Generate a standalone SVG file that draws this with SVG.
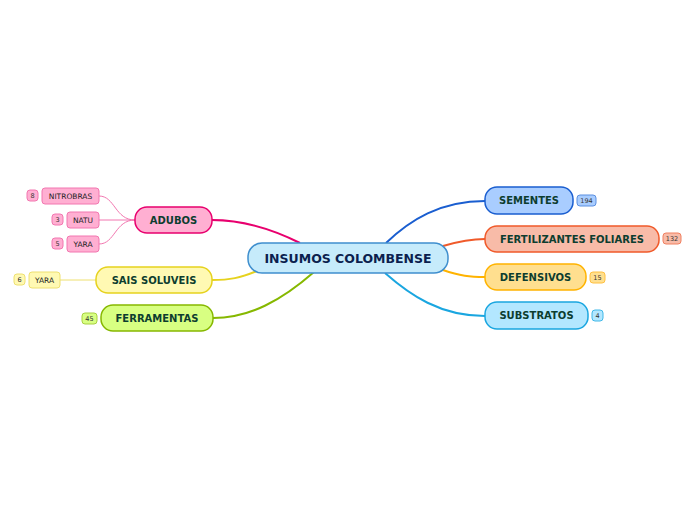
<svg xmlns="http://www.w3.org/2000/svg" width="696" height="520" viewBox="0 0 696 520">
<style>
text{font-family:Verdana,"DejaVu Sans",sans-serif;font-weight:bold;text-anchor:middle;dominant-baseline:central}
.t{font-size:10px;fill:#0d3d2f}
.s{font-size:7.5px;font-weight:normal;fill:#222}
.b{font-size:6.5px;font-weight:normal;fill:#333}
.c{fill:none;stroke-width:2}
.n{fill:none;stroke-width:1}
</style>
<rect width="696" height="520" fill="#fff"/>
<g id="connectors">
<path class="c" stroke="#e8006e" d="M300,243 C270,228 240,220 212,220"/>
<path class="c" stroke="#e6d21e" d="M257,271 C240,278 230,280 212,280"/>
<path class="c" stroke="#86b800" d="M314,272 C282,300 250,318 213,318"/>
<path class="c" stroke="#1a5ed0" d="M386,243 C410,220 440,201 485,201"/>
<path class="c" stroke="#f05a2a" d="M443,246 C460,241 470,239 485,239"/>
<path class="c" stroke="#ffb300" d="M443,270 C460,276 470,277 485,277"/>
<path class="c" stroke="#1aa6e0" d="M385,273 C410,295 440,316 485,316"/>
<path class="n" stroke="#f277b0" d="M135,220 C115,220 115,196 99,196"/>
<path class="n" stroke="#f277b0" d="M135,220 L99,220"/>
<path class="n" stroke="#f277b0" d="M135,220 C115,220 115,244 99,244"/>
<path class="n" stroke="#eee070" d="M96,280 L60,280"/>
</g>
<g id="central">
<rect x="248" y="243" width="200" height="30" rx="14" fill="#c6ebfb" stroke="#3f8fce" stroke-width="1.5"/>
<text x="348" y="258.5" style="font-size:12.5px;fill:#0b1f4f">INSUMOS COLOMBENSE</text>
</g>
<g id="adubos">
<rect x="135" y="207" width="77" height="26" rx="12" fill="#ffafd2" stroke="#e8006e" stroke-width="1.5"/>
<text class="t" x="173.5" y="220">ADUBOS</text>
</g>
<g id="nitrobras">
<rect x="42" y="188" width="57" height="16" rx="3" fill="#ffafd2" stroke="#f277b0"/>
<text class="s" x="70.5" y="196.5">NITROBRAS</text>
<rect x="27" y="190" width="11" height="11" rx="3" fill="#ffafd2" stroke="#f277b0"/>
<text class="b" x="32.5" y="195.5">8</text>
</g>
<g id="natu">
<rect x="67" y="212" width="32" height="16" rx="3" fill="#ffafd2" stroke="#f277b0"/>
<text class="s" x="83" y="220.5">NATU</text>
<rect x="52" y="214" width="11" height="11" rx="3" fill="#ffafd2" stroke="#f277b0"/>
<text class="b" x="57.5" y="219.5">3</text>
</g>
<g id="yara1">
<rect x="67" y="236" width="32" height="16" rx="3" fill="#ffafd2" stroke="#f277b0"/>
<text class="s" x="83" y="244.5">YARA</text>
<rect x="52" y="238" width="11" height="11" rx="3" fill="#ffafd2" stroke="#f277b0"/>
<text class="b" x="57.5" y="243.5">5</text>
</g>
<g id="sais">
<rect x="96" y="267" width="116" height="26" rx="12" fill="#fff9b3" stroke="#e6d21e" stroke-width="1.5"/>
<text class="t" x="154" y="280">SAIS SOLUVEIS</text>
</g>
<g id="yara2">
<rect x="29" y="272" width="31" height="16" rx="3" fill="#fff9b3" stroke="#eee070"/>
<text class="s" x="44.5" y="280.5">YARA</text>
<rect x="14" y="274" width="11" height="11" rx="3" fill="#fff9b3" stroke="#eee070"/>
<text class="b" x="19.5" y="279.5">6</text>
</g>
<g id="ferramentas">
<rect x="101" y="305" width="112" height="26" rx="12" fill="#d8ff82" stroke="#86b800" stroke-width="1.5"/>
<text class="t" x="157" y="318">FERRAMENTAS</text>
<rect x="82" y="313" width="15" height="11" rx="3" fill="#d8ff82" stroke="#a8d040"/>
<text class="b" x="89.5" y="318.5">45</text>
</g>
<g id="sementes">
<rect x="485" y="187" width="88" height="27" rx="12" fill="#a9cdff" stroke="#1a5ed0" stroke-width="1.5"/>
<text class="t" x="529" y="200.5">SEMENTES</text>
<rect x="577" y="195" width="19" height="11" rx="3" fill="#a9cdff" stroke="#5b8fe0"/>
<text class="b" x="586.5" y="200.5">194</text>
</g>
<g id="fertilizantes">
<rect x="485" y="226" width="174" height="26" rx="12" fill="#f8bba8" stroke="#f05a2a" stroke-width="1.5"/>
<text class="t" x="572" y="239">FERTILIZANTES FOLIARES</text>
<rect x="663" y="233" width="18" height="11" rx="3" fill="#f8bba8" stroke="#f08060"/>
<text class="b" x="672" y="238.5">132</text>
</g>
<g id="defensivos">
<rect x="485" y="264" width="101" height="26" rx="12" fill="#ffdf8f" stroke="#ffb300" stroke-width="1.5"/>
<text class="t" x="535.5" y="277">DEFENSIVOS</text>
<rect x="590" y="272" width="15" height="11" rx="3" fill="#ffdf8f" stroke="#ffc040"/>
<text class="b" x="597.5" y="277.5">15</text>
</g>
<g id="substratos">
<rect x="485" y="302" width="103" height="27" rx="12" fill="#b3e7ff" stroke="#1aa6e0" stroke-width="1.5"/>
<text class="t" x="536.5" y="315.5">SUBSTRATOS</text>
<rect x="592" y="310" width="11" height="11" rx="3" fill="#b3e7ff" stroke="#40b8e8"/>
<text class="b" x="597.5" y="315.5">4</text>
</g>
</svg>
